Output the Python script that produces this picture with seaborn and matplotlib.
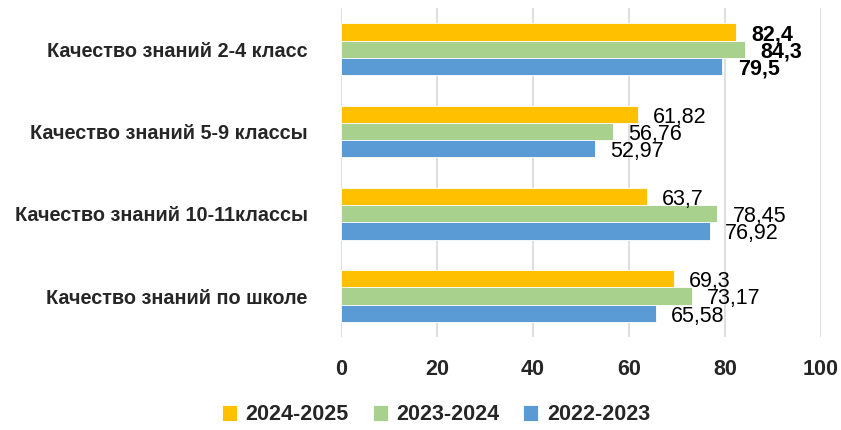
import matplotlib
matplotlib.use("Agg")
import matplotlib.pyplot as plt
import seaborn as sns
import pandas as pd

categories = ["Качество знаний 2-4 класс", "Качество знаний 5-9 классы",
              "Качество знаний 10-11классы", "Качество знаний по школе"]
series_names = ["2024-2025", "2023-2024", "2022-2023"]
v_2024_2025 = [82.4, 61.82, 63.7, 69.3]
v_2023_2024 = [84.3, 56.76, 78.45, 73.17]
v_2022_2023 = [79.5, 52.97, 76.92, 65.58]
label_2024_2025 = ["82,4", "61,82", "63,7", "69,3"]
label_2023_2024 = ["84,3", "56,76", "78,45", "73,17"]
label_2022_2023 = ["79,5", "52,97", "76,92", "65,58"]
colors = ["#FFC000", "#A9D18E", "#5B9BD5"]

rows = []
for s, vals, labs in zip(series_names, [v_2024_2025, v_2023_2024, v_2022_2023],
                         [label_2024_2025, label_2023_2024, label_2022_2023]):
    for c, v, l in zip(categories, vals, labs):
        rows.append({"cat": c, "series": s, "value": v, "label": l})
df = pd.DataFrame(rows)

sns.set_theme(style="white")
plt.rcParams["font.family"] = ["Liberation Sans", "DejaVu Sans"]

fig = plt.figure(figsize=(8.41, 4.30), dpi=100)
ax = fig.add_axes([0.4055, 0.216, 0.5705, 0.765])

sns.barplot(data=df, y="cat", x="value", hue="series", order=categories,
            hue_order=series_names, palette=colors, saturation=1, orient="h",
            width=0.63, gap=0, ax=ax, edgecolor="white", linewidth=0.6, legend=True)

ax.set_xlim(0, 100)
ax.set_xticks([0, 20, 40, 60, 80, 100])
ax.set_ylim(3.5, -0.5)
ax.grid(axis="x", color="#D9D9D9", linewidth=1.2)
ax.set_axisbelow(True)
for sp in ax.spines.values():
    sp.set_visible(False)
ax.tick_params(axis="both", length=0)
ax.set_xlabel("")
ax.set_ylabel("")
for t in ax.get_xticklabels():
    t.set_fontweight("bold")
    t.set_fontsize(15.5)
ax.tick_params(axis="x", pad=16)
for t in ax.get_yticklabels():
    t.set_fontweight("bold")
    t.set_fontsize(14.3)
ax.tick_params(axis="y", pad=24)

# value labels
for container, s in zip(ax.containers, series_names):
    sub = df[df.series == s].set_index("cat").loc[categories]
    for bar, lab, cat in zip(container, sub["label"], categories):
        w = bar.get_width()
        yc = bar.get_y() + bar.get_height() / 2
        bold = cat == categories[0]
        ax.annotate(lab, (w, yc), xytext=(11, -2), textcoords="offset points",
                    va="center", ha="left", fontsize=15.5,
                    fontweight="bold" if bold else "normal", color="black")

ax.legend(loc="center", bbox_to_anchor=(436 / 841, 1 - 415 / 430),
          bbox_transform=fig.transFigure,
          ncol=3, frameon=False, prop={"weight": "bold", "size": 15.5},
          handlelength=0.7, handleheight=0.7, columnspacing=1.1, handletextpad=0.4)

fig.savefig("out.png", dpi=100)
